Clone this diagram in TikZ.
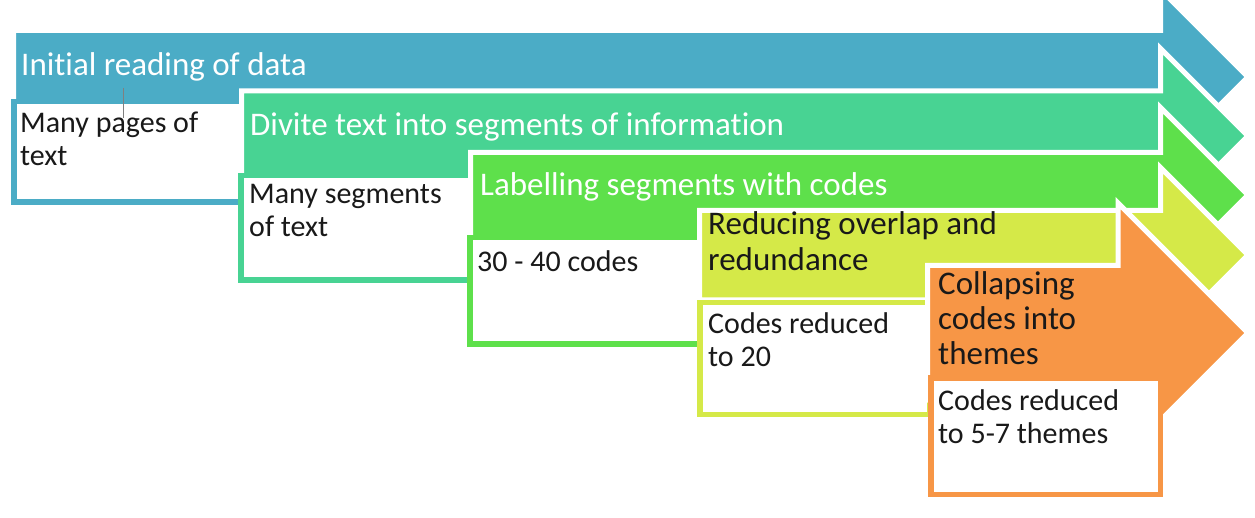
\documentclass[tikz,border=0pt]{standalone}
\usepackage{fontspec}
\setmainfont{Carlito}[Ligatures=NoCommon]
\definecolor{stepblue}{HTML}{4BACC6}
\definecolor{stepteal}{HTML}{48D393}
\definecolor{stepgreen}{HTML}{5EE04B}
\definecolor{steplime}{HTML}{D5E948}
\definecolor{steporange}{HTML}{F79646}
\begin{document}
\begin{tikzpicture}[x=1pt, y=-1pt, line join=miter,
		arrowband/.style={draw=white, line width=5pt},
		notebox/.style={fill=white, line width=5.5pt},
		headtext/.style={anchor=north west, inner sep=0pt, align=left, text=white, font=\fontsize{33}{36}\selectfont, execute at begin node=\strut},
		notetext/.style={anchor=north west, inner sep=0pt, align=left, text=black!90, font=\fontsize{30}{33}\selectfont, execute at begin node=\strut}]
			\useasboundingbox (0,0) rectangle (1255,518);
			\clip (0,0) rectangle (1255,518);
			\path[arrowband, fill=stepblue] (13.5,30.5) -- (1160.5,30.5) -- (1160.5,-10.5) -- (1248,77) -- (1160.5,164.5) -- (1160.5,123) -- (13.5,123) -- cycle;
			\path[notebox, draw=stepblue] (13.75,101.75) rectangle (243.25,202.25);
			\node[headtext] (head1) at (21,49.8) {Initial reading of data};
			\node[notetext] (note1) at (20,111.4) {Many pages of\\text};
			\draw[gray, line width=0.8pt] (123,88) -- (123,118);
			\path[arrowband, fill=stepteal] (241.5,91) -- (1160.5,91) -- (1160.5,48.5) -- (1248,136) -- (1160.5,223.5) -- (1160.5,181) -- (241.5,181) -- cycle;
			\path[notebox, draw=stepteal] (240.75,175.75) rectangle (470.25,280.25);
			\node[headtext] (head2) at (250,110.3) {Divite text into segments of information};
			\node[notetext] (note2) at (249,183.9) {Many segments\\of text};
			\path[arrowband, fill=stepgreen] (470.5,152.5) -- (1160.5,152.5) -- (1160.5,107.5) -- (1248,195) -- (1160.5,282.5) -- (1160.5,238) -- (470.5,238) -- cycle;
			\path[notebox, draw=stepgreen] (469.75,237.75) rectangle (699.25,344.25);
			\node[headtext] (head3) at (480,170.3) {Labelling segments with codes};
			\node[notetext] (note3) at (477,247.9) {30 - 40 codes};
			\path[arrowband, fill=steplime] (699.5,210.5) -- (1160.5,210.5) -- (1160.5,167.5) -- (1248,255) -- (1160.5,342.5) -- (1160.5,300) -- (699.5,300) -- cycle;
			\path[notebox, draw=steplime] (699.75,302.75) rectangle (929.25,414.25);
			\node[headtext, text=black!90] (head4) at (708,211.3) {Reducing overlap and\\redundance};
			\node[notetext] (note4) at (708,312.9) {Codes reduced\\to 20};
			\path[arrowband, fill=steporange] (927.5,265.5) -- (1118,265.5) -- (1118,203) -- (1248,333) -- (1118,463) -- (1118,400) -- (927.5,400) -- cycle;
			\path[notebox, draw=steporange] (930.75,377.75) rectangle (1160.25,494.25);
			\node[headtext, text=black!90, font=\fontsize{33}{35}\selectfont] (head5) at (938,271.3) {Collapsing\\codes into\\themes};
			\node[notetext] (note5) at (938,389.9) {Codes reduced\\to 5-7 themes};
		\end{tikzpicture}
\end{document}
